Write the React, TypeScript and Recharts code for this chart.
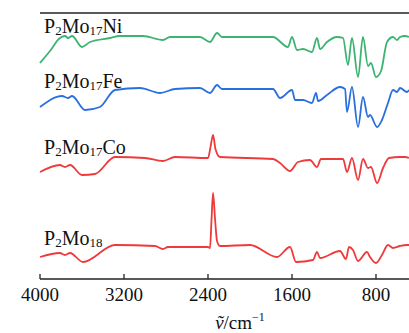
import React from "react";
import { LineChart, Line, XAxis, YAxis, ReferenceLine } from "recharts";

// Wavenumbers (cm^-1) and offset transmittance (a.u.) for each spectrum
const niWn = [4000, 3905, 3810, 3762, 3733, 3695, 3600, 3524, 3333, 3238, 3019, 2829, 2762, 2476, 2381, 2314, 2267, 1781, 1638, 1600, 1552, 1495, 1410, 1362, 1333, 1267, 1171, 1114, 1067, 1029, 971, 924, 876, 848, 800, 752, 695, 638, 600, 571, 524, 486];
const niT = [216, 228, 241, 243, 241, 243, 232, 237, 241, 243, 243, 239, 242, 242, 237, 246, 242, 242, 232, 242, 229, 230, 227, 241, 230, 237, 242, 241, 214, 241, 202, 242, 213, 216, 202, 208, 237, 242, 239, 242, 243, 242];

const feWn = [4000, 3790, 3733, 3695, 3571, 3429, 3286, 3048, 2857, 2714, 2476, 2381, 2314, 2267, 1781, 1714, 1600, 1571, 1495, 1410, 1371, 1352, 1267, 1143, 1095, 1076, 1029, 971, 924, 876, 857, 790, 743, 686, 638, 600, 571, 505, 486];
const feT = [172, 183, 181, 183, 169, 172, 189, 191, 186, 190, 191, 186, 194, 190, 190, 181, 189, 179, 179, 176, 186, 178, 184, 192, 190, 167, 192, 152, 182, 162, 164, 152, 159, 176, 189, 187, 191, 187, 189];

const coWn = [4000, 3810, 3762, 3714, 3600, 3476, 3286, 3000, 2829, 2714, 2400, 2376, 2352, 2329, 2286, 1781, 1714, 1619, 1543, 1429, 1362, 1324, 1114, 1076, 1029, 971, 924, 876, 848, 790, 733, 676, 571, 524, 486];
const coT = [107, 114, 112, 114, 104, 105, 122, 121, 118, 122, 121, 132, 144, 130, 122, 120, 116, 108, 117, 119, 112, 120, 120, 107, 121, 99, 120, 111, 112, 96, 111, 121, 122, 122, 121];

const moWn = [4000, 3810, 3762, 3714, 3590, 3286, 2905, 2829, 2781, 2400, 2381, 2367, 2352, 2333, 2314, 2286, 2000, 1743, 1619, 1562, 1400, 1362, 1333, 1143, 1086, 1057, 1019, 971, 886, 857, 800, 743, 686, 638, 571, 505, 486];
const moT = [22, 26, 24, 26, 17, 34, 33, 30, 32, 32, 31, 58, 86, 60, 38, 33, 34, 22, 32, 17, 19, 27, 21, 28, 20, 32, 29, 18, 27, 22, 16, 24, 34, 31, 33, 34, 34];

const xTicks = [4000, 3200, 2400, 1600, 800];
const yTop = 266;
const labels = [
  { base: "P", s1: "2", mid: "Mo", s2: "17", end: "Ni" },
  { base: "P", s1: "2", mid: "Mo", s2: "17", end: "Fe" },
  { base: "P", s1: "2", mid: "Mo", s2: "17", end: "Co" },
  { base: "P", s1: "2", mid: "Mo", s2: "18", end: "" },
];
const xLabel = "ṽ";
const xUnit = "/cm";
const xSup = "−1";

const toData = (wn: number[], t: number[]) => wn.map((w, i) => ({ wn: w, t: t[i] }));

const series = [
  { data: toData(niWn, niT), color: "#3cb371" },
  { data: toData(feWn, feT), color: "#2a6fdf" },
  { data: toData(coWn, coT), color: "#ee3a3a" },
  { data: toData(moWn, moT), color: "#ee3a3a" },
];

const FONT = "'Liberation Serif', 'Times New Roman', serif";

const Tick = (props: any) => {
  const { x, y, payload } = props;
  return (
    <g>
      <line x1={x} x2={x} y1={y} y2={y - 5} stroke="#222" strokeWidth={1.3} />
      <text x={x} y={y + 22} textAnchor="middle" fontFamily={FONT} fontSize={19} fill="#111">
        {payload.value}
      </text>
    </g>
  );
};

const labelY = [33, 88, 154, 245];

export default function App() {
  return (
    <div style={{ position: "fixed", left: 0, top: 0, width: 409, height: 333, overflow: "hidden", background: "#fff" }}>
      <LineChart width={420} height={333} margin={{ top: 13, right: 2, bottom: 0, left: 40 }}>
        <XAxis
          dataKey="wn"
          type="number"
          domain={[400, 4000]}
          reversed
          ticks={xTicks}
          allowDuplicatedCategory={false}
          height={54}
          tickSize={0}
          tickMargin={0}
          tickLine={false}
          tick={<Tick />}
          axisLine={{ stroke: "#222", strokeWidth: 1.3 }}
          interval={0}
        />
        <YAxis
          type="number"
          domain={[0, yTop]}
          width={0}
          tick={false}
          tickLine={false}
          axisLine={{ stroke: "#222", strokeWidth: 1.3 }}
        />
        <ReferenceLine y={yTop} stroke="#222" strokeWidth={1.3} ifOverflow="visible" />
        {series.map((s, i) => (
          <Line
            key={i}
            data={s.data}
            dataKey="t"
            type="monotone"
            stroke={s.color}
            strokeWidth={1.8}
            dot={false}
            isAnimationActive={false}
          />
        ))}
      </LineChart>
      <svg width={409} height={333} style={{ position: "absolute", left: 0, top: 0, pointerEvents: "none" }}>
        {labels.map((l, i) => (
          <text key={i} x={44} y={labelY[i]} fontFamily={FONT} fontSize={20} fill="#111">
            {l.base}
            <tspan fontSize={13} dy={2}>{l.s1}</tspan>
            <tspan dy={-2}>{l.mid}</tspan>
            <tspan fontSize={13} dy={2}>{l.s2}</tspan>
            <tspan dy={-2}>{l.end}</tspan>
          </text>
        ))}
        <text x={240} y={329} textAnchor="middle" fontFamily={FONT} fontSize={19} fill="#111">
          <tspan fontStyle="italic">{xLabel}</tspan>
          {xUnit}
          <tspan fontSize={12} dy={-8}>{xSup}</tspan>
        </text>
      </svg>
    </div>
  );
}
